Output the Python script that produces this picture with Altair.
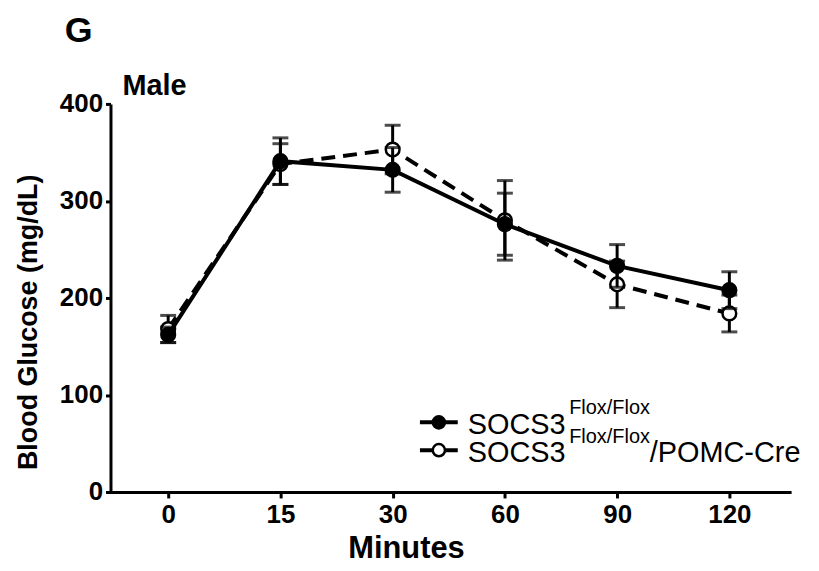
import altair as alt
import pandas as pd

# ---- data ----
minutes = ["0", "15", "30", "60", "90", "120"]
ctrl_mean = [162, 341, 332, 276, 233, 208]
ctrl_sem = [8, 24, 23, 32, 22, 19]
cre_mean = [168, 338, 353, 280, 214, 184]
cre_sem = [14, 21, 25, 41, 24, 19]
series_names = ["SOCS3 Flox/Flox", "SOCS3 Flox/Flox/POMC-Cre"]
y_ticks = [0, 100, 200, 300, 400]

rows = []
for name, means, sems in [(series_names[0], ctrl_mean, ctrl_sem),
                          (series_names[1], cre_mean, cre_sem)]:
    for m, v, s in zip(minutes, means, sems):
        rows.append(dict(series=name, minute=m, mean=v, lo=v - s, hi=v + s))
df = pd.DataFrame(rows)

FONT = "Liberation Sans"
W, H = 684, 390

x_axis = alt.Axis(title="Minutes", labelAngle=0, tickSize=6, labelPadding=4,
                  titleFontSize=31, titleX=297, titleY=66,
                  titleBaseline="alphabetic", titleAlign="center", titleAnchor="start")
y_axis = alt.Axis(title="Blood Glucose (mg/dL)", values=y_ticks, tickSize=5,
                  labelPadding=3, titleFontSize=27, titleX=-68, titleY=219,
                  titleAngle=270, titleBaseline="bottom", titleAlign="center")
x_scale = alt.Scale(type="point", padding=0.532, align=0.483)
y_scale = alt.Scale(domain=[0, 400], nice=False, zero=True)


def X():
    return alt.X("minute:O", sort=minutes, scale=x_scale, axis=x_axis)


def series_layers(name, filled, dash):
    base = alt.Chart(df).transform_filter(alt.datum.series == name)
    rule = base.mark_rule(color="black", strokeWidth=3).encode(
        x=X(),
        y=alt.Y("lo:Q", scale=y_scale, axis=y_axis),
        y2="hi:Q",
    )
    cap_lo = base.mark_tick(color="black", size=16, thickness=3, orient="horizontal").encode(
        x=X(), y=alt.Y("lo:Q", scale=y_scale, axis=y_axis))
    cap_hi = base.mark_tick(color="black", size=16, thickness=3, orient="horizontal").encode(
        x=X(), y=alt.Y("hi:Q", scale=y_scale, axis=y_axis))
    line_kwargs = dict(color="black", strokeWidth=4)
    if dash:
        line_kwargs["strokeDash"] = [14, 8]
    line = base.mark_line(**line_kwargs).encode(
        x=X(), y=alt.Y("mean:Q", scale=y_scale, axis=y_axis))
    pts = base.mark_point(
        shape="circle", filled=True,
        fill="black" if filled else "white",
        stroke="black", strokeWidth=2.5, size=190, opacity=1,
    ).encode(x=X(), y=alt.Y("mean:Q", scale=y_scale, axis=y_axis))
    return [rule, cap_lo, cap_hi, line, pts]


layers = series_layers(series_names[1], filled=False, dash=True) + \
    series_layers(series_names[0], filled=True, dash=False)

one = alt.Data(values=[{}])


def txt(text, xv, yv, size, weight="normal", align="left"):
    return alt.Chart(one).mark_text(
        text=text, align=align, baseline="alphabetic", font=FONT,
        fontSize=size, fontWeight=weight, color="black",
    ).encode(x=alt.value(xv), y=alt.value(yv))


def leg_symbol(yv, filled):
    seg = alt.Chart(one).mark_rule(color="black", strokeWidth=4).encode(
        x=alt.value(311), x2=alt.value(349), y=alt.value(yv))
    dot = alt.Chart(one).mark_point(
        shape="circle", filled=True, fill="black" if filled else "white",
        stroke="black", strokeWidth=2.5, size=150, opacity=1,
    ).encode(x=alt.value(330), y=alt.value(yv))
    return [seg, dot]


decor = [
    txt("G", -46, -62, 36, "bold"),
    txt("Male", 12, -9, 29, "bold"),
] + leg_symbol(320, True) + leg_symbol(348, False) + [
    txt("SOCS3", 359, 332, 29),
    txt("Flox/Flox", 461, 312, 20),
    txt("SOCS3", 359, 360, 29),
    txt("Flox/Flox", 461, 341, 20),
    txt("/POMC-Cre", 542, 360, 29),
]

chart = alt.layer(*layers, *decor).properties(
    width=W, height=H,
    autosize=alt.AutoSizeParams(type="none"),
    padding={"left": 103, "top": 95, "right": 20, "bottom": 75},
    background="white",
).configure_view(stroke=None).configure_axis(
    labelFont=FONT, labelFontWeight="bold", labelFontSize=26, labelColor="black",
    titleFont=FONT, titleFontWeight="bold", titleColor="black",
    domainColor="black", domainWidth=3, tickColor="black", tickWidth=3,
    grid=False,
)

chart.save("out.html", embed_options={"renderer": "svg", "actions": False})
